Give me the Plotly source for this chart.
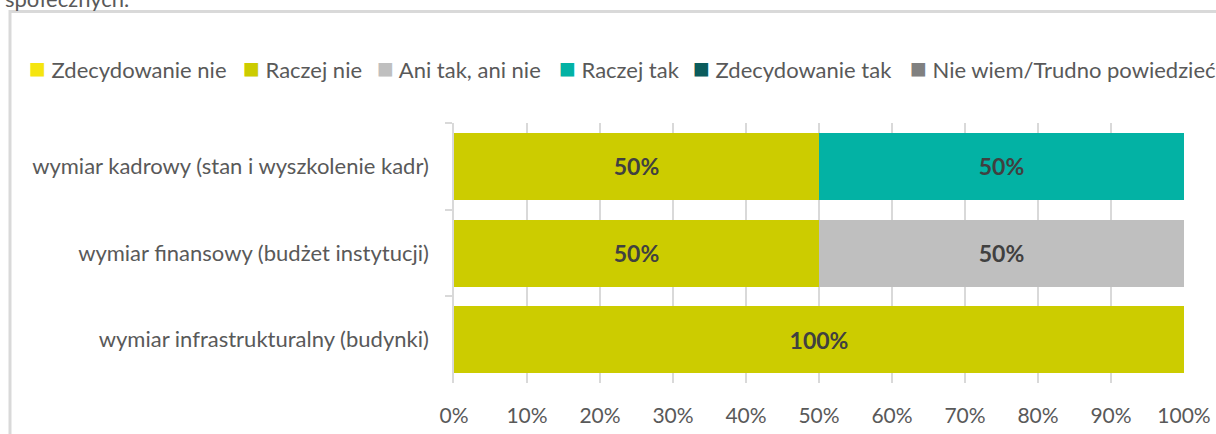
import plotly.graph_objects as go

# categories, top to bottom as in the chart
categories = [
    "wymiar kadrowy (stan i wyszkolenie kadr)",
    "wymiar finansowy (budżet instytucji)",
    "wymiar infrastrukturalny (budynki)",
]

# answer series, % of responses per category
answers = [
    "Zdecydowanie nie",
    "Raczej nie",
    "Ani tak, ani nie",
    "Raczej tak",
    "Zdecydowanie tak",
    "Nie wiem/Trudno powiedzieć",
]
zdecydowanie_nie = [0, 0, 0]
raczej_nie = [50, 50, 100]
ani_tak_ani_nie = [0, 50, 0]
raczej_tak = [50, 0, 0]
zdecydowanie_tak = [0, 0, 0]
nie_wiem = [0, 0, 0]

x_ticks = list(range(0, 101, 10))
x_tick_labels = [f"{t}%" for t in x_ticks]

COLORS = ["#f5e50f", "#cccc00", "#bfbfbf", "#03b2a4", "#0b5c5c", "#808080"]
FONT = "Lato, 'Open Sans', sans-serif"
TEXT = "#595959"

W, H = 1216, 434
L, R, T, B = 454, 32, 123, 51


def px_x(px):
    return (px - L) / (W - L - R)


def px_y(py):
    return (H - B - py) / (H - T - B)


series = [zdecydowanie_nie, raczej_nie, ani_tak_ani_nie, raczej_tak, zdecydowanie_tak, nie_wiem]

fig = go.Figure()
for name, vals, color in zip(answers, series, COLORS):
    fig.add_trace(go.Bar(
        y=categories, x=vals, name=name, orientation="h",
        marker=dict(color=color, line=dict(width=0)),
        text=[f"{v}%" if v else "" for v in vals],
        textposition="inside", insidetextanchor="middle", textangle=0,
        textfont=dict(family=FONT, size=23, color="#404040", weight="bold"),
        constraintext="none",
        showlegend=False,
        hovertemplate=name + "<br>%{y}: %{x}%<extra></extra>",
    ))

# legend drawn as text row (Excel-like, runs off the right edge)
legend_px = [28, 242, 376, 558, 692, 909]
annotations = []
for name, color, lx in zip(answers, COLORS, legend_px):
    annotations.append(dict(
        x=px_x(lx), y=px_y(67), xref="paper", yref="paper",
        xanchor="left", yanchor="middle", showarrow=False,
        text=f"<span style='color:{color};font-size:28px'>■</span> {name}",
        font=dict(family=FONT, size=22, color=TEXT),
        borderpad=0,
    ))

# cut-off title line above the chart frame
annotations.append(dict(
    x=px_x(4), y=px_y(13), xref="paper", yref="paper",
    xanchor="left", yanchor="bottom", showarrow=False,
    text="społecznych.", font=dict(family=FONT, size=22, color=TEXT),
    borderpad=0,
))

fig.update_layout(
    width=W, height=H,
    margin=dict(l=L, r=R, t=T, b=B, autoexpand=False),
    paper_bgcolor="white", plot_bgcolor="white",
    font=dict(family=FONT, color=TEXT, size=22),
    barmode="stack", bargap=0.227,
    xaxis=dict(
        range=[0, 100], tickvals=x_ticks, ticktext=x_tick_labels,
        showgrid=True, gridcolor="#d9d9d9", gridwidth=1.5,
        zeroline=False, showline=False, ticks="",
        ticklabelstandoff=18, tickfont=dict(size=21, color=TEXT),
        fixedrange=True,
    ),
    yaxis=dict(
        autorange="reversed", showline=True, linecolor="#d9d9d9", linewidth=1.5,
        ticks="outside", tickson="boundaries", ticklen=7, tickcolor="#d9d9d9",
        tickwidth=1.5, ticklabelstandoff=19, showgrid=False,
        tickfont=dict(size=22, color=TEXT),
        fixedrange=True,
    ),
    shapes=[dict(
        type="rect", xref="paper", yref="paper",
        x0=px_x(10), y0=px_y(460), x1=px_x(1240), y1=px_y(11.5),
        line=dict(color="#d9d9d9", width=3), fillcolor="rgba(0,0,0,0)",
        layer="below",
    )],
    annotations=annotations,
)

# page body margin would shift the fixed-size chart by 8px
fig.write_html(
    "out.html",
    config={"displayModeBar": False},
    post_script="document.body.style.margin='0';document.body.style.overflow='hidden';",
)
